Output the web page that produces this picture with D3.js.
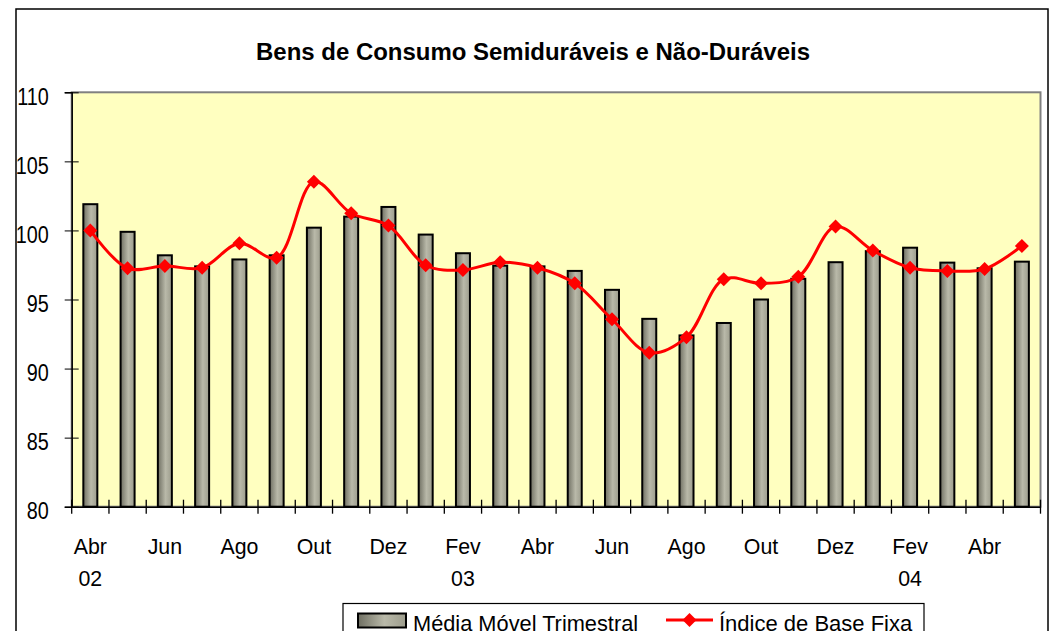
<!DOCTYPE html>
<html>
<head>
<meta charset="utf-8">
<script src="https://cdn.jsdelivr.net/npm/d3@7"></script>
<style>
  body { margin: 0; background: #fff; }
  text { font-family: "Liberation Sans", Arial, sans-serif; }
</style>
</head>
<body>
<script>
var meses = ["Abr 02","Mai 02","Jun 02","Jul 02","Ago 02","Set 02","Out 02","Nov 02","Dez 02",
  "Jan 03","Fev 03","Mar 03","Abr 03","Mai 03","Jun 03","Jul 03","Ago 03","Set 03","Out 03","Nov 03","Dez 03",
  "Jan 04","Fev 04","Mar 04","Abr 04","Mai 04"];
var mediaMovel = [101.9, 99.9, 98.2, 97.4, 97.9, 98.2, 100.2, 101.0, 101.7, 99.7, 98.35, 97.45, 97.4,
  97.07, 95.7, 93.6, 92.4, 93.3, 95.0, 96.5, 97.7, 98.5, 98.75, 97.67, 97.26, 97.74];
var indiceBase = [100.0, 97.26, 97.43, 97.3, 99.07, 98.03, 103.53, 101.24, 100.35, 97.48, 97.14, 97.7, 97.3,
  96.17, 93.57, 91.15, 92.27, 96.47, 96.17, 96.65, 100.28, 98.54, 97.3, 97.07, 97.21, 98.88];
var yTicks = [80, 85, 90, 95, 100, 105, 110];
var mesLabels = {"Abr 02":"Abr","Jun 02":"Jun","Ago 02":"Ago","Out 02":"Out","Dez 02":"Dez","Fev 03":"Fev",
  "Abr 03":"Abr","Jun 03":"Jun","Ago 03":"Ago","Out 03":"Out","Dez 03":"Dez","Fev 04":"Fev","Abr 04":"Abr"};
var anoLabels = {"Abr 02":"02","Fev 03":"03","Fev 04":"04"};
var titulo = "Bens de Consumo Semiduráveis e Não-Duráveis";
var serie1 = "Média Móvel Trimestral", serie2 = "Índice de Base Fixa";

var w = 1058, h = 631;
var pLeft = 71.7, pRight = 1040.5, pTop = 92.3, pBottom = 506.7;

var svg = d3.select("body").append("svg")
  .attr("width", w)
  .attr("height", h);

var defs = svg.append("defs");
var grad = defs.append("linearGradient").attr("id", "barGrad")
  .attr("x1", "0%").attr("x2", "100%").attr("y1", "0%").attr("y2", "0%");
grad.append("stop").attr("offset", "0%").attr("stop-color", "#6f6f62");
grad.append("stop").attr("offset", "55%").attr("stop-color", "#b9b9a9");
grad.append("stop").attr("offset", "100%").attr("stop-color", "#9c9c8c");

// outer chart border
svg.append("rect")
  .attr("x", 16).attr("y", 9)
  .attr("width", 1032).attr("height", 640)
  .attr("fill", "#fff")
  .attr("stroke", "#000")
  .attr("stroke-width", 1.5);

// squeeze text a bit, like the original
function squeeze(sel, k) {
  sel.each(function() {
    var len = this.getComputedTextLength();
    d3.select(this).attr("textLength", len * k).attr("lengthAdjust", "spacingAndGlyphs");
  });
}

svg.append("text")
  .attr("x", 533).attr("y", 59.5)
  .attr("text-anchor", "middle")
  .attr("textLength", 554)
  .attr("lengthAdjust", "spacingAndGlyphs")
  .style("font-size", "23px")
  .style("font-weight", "bold")
  .text(titulo);

var x = d3.scaleBand().domain(meses).range([pLeft, pRight]);
var y = d3.scaleLinear().domain([80, 110]).range([pBottom, pTop]);

// plot area
svg.append("rect")
  .attr("x", pLeft).attr("y", pTop)
  .attr("width", pRight - pLeft).attr("height", pBottom - pTop)
  .attr("fill", "#ffffc0")
  .attr("stroke", "#808080")
  .attr("stroke-width", 2);

// bars
var barW = 14;
svg.append("g").selectAll("rect")
  .data(mediaMovel)
  .enter().append("rect")
  .attr("x", function(d, i) { return x(meses[i]) + x.bandwidth() / 2 - barW / 2; })
  .attr("y", function(d) { return y(d); })
  .attr("width", barW)
  .attr("height", function(d) { return pBottom - y(d); })
  .attr("fill", "url(#barGrad)")
  .attr("stroke", "#000")
  .attr("stroke-width", 2);

// y axis
var yAxis = svg.append("g")
  .attr("transform", "translate(" + pLeft + ",0)")
  .call(d3.axisLeft(y).tickValues(yTicks).tickSize(7).tickPadding(16));
yAxis.select(".domain").attr("stroke", "#000").attr("stroke-width", 1.5);
yAxis.selectAll(".tick line").attr("x1", 7).attr("stroke", "#000");
yAxis.selectAll(".tick text")
  .attr("dy", "0.52em")
  .style("font-size", "23px")
  .attr("fill", "#000")
  .call(squeeze, 0.86);

// x axis
var xAxis = svg.append("g")
  .attr("transform", "translate(0," + pBottom + ")")
  .call(d3.axisBottom(x).tickValues(Object.keys(mesLabels)).tickSize(0).tickPadding(32)
    .tickFormat(function(d) { return mesLabels[d]; }));
xAxis.select(".domain").attr("stroke", "#000").attr("stroke-width", 1.5);
xAxis.selectAll(".tick text")
  .style("font-size", "22px")
  .attr("fill", "#000")
  .call(squeeze, 0.97);

svg.append("g").selectAll("line")
  .data(meses.concat(["fim"]))
  .enter().append("line")
  .attr("x1", function(d) { return d == "fim" ? pRight : x(d); })
  .attr("x2", function(d) { return d == "fim" ? pRight : x(d); })
  .attr("y1", pBottom - 7)
  .attr("y2", pBottom + 7)
  .style("stroke", "#000")
  .style("stroke-width", 1.3);

svg.append("g").selectAll("text")
  .data(Object.keys(anoLabels))
  .enter().append("text")
  .attr("x", function(d) { return x(d) + x.bandwidth() / 2; })
  .attr("y", 586)
  .attr("text-anchor", "middle")
  .style("font-size", "22px")
  .text(function(d) { return anoLabels[d]; })
  .call(squeeze, 0.97);

// line
var line = d3.line()
  .x(function(d, i) { return x(meses[i]) + x.bandwidth() / 2; })
  .y(function(d) { return y(d); })
  .curve(d3.curveCatmullRom.alpha(0.5));

svg.append("path")
  .datum(indiceBase)
  .attr("d", line)
  .attr("fill", "none")
  .attr("stroke", "#ff0000")
  .attr("stroke-width", 3);

var diamond = d3.symbol().type(d3.symbolSquare).size(98);
svg.append("g").selectAll("path")
  .data(indiceBase)
  .enter().append("path")
  .attr("d", diamond)
  .attr("transform", function(d, i) {
    return "translate(" + (x(meses[i]) + x.bandwidth() / 2) + "," + y(d) + ") rotate(45)";
  })
  .attr("fill", "#ff0000");

// legend
var lg = svg.append("g");
lg.append("rect")
  .attr("x", 343).attr("y", 603.5)
  .attr("width", 581).attr("height", 50)
  .attr("fill", "#fff")
  .attr("stroke", "#000")
  .attr("stroke-width", 1.2);
lg.append("rect")
  .attr("x", 358).attr("y", 613.5)
  .attr("width", 48).attr("height", 14)
  .attr("fill", "url(#barGrad)")
  .attr("stroke", "#000")
  .attr("stroke-width", 2);
lg.append("text")
  .attr("x", 413).attr("y", 631)
  .style("font-size", "22px")
  .text(serie1)
  .call(squeeze, 0.99);
lg.append("line")
  .attr("x1", 666).attr("x2", 713)
  .attr("y1", 620).attr("y2", 620)
  .attr("stroke", "#ff0000")
  .attr("stroke-width", 3);
lg.append("path")
  .attr("d", diamond)
  .attr("transform", "translate(689.5,620) rotate(45)")
  .attr("fill", "#ff0000");
lg.append("text")
  .attr("x", 719).attr("y", 631)
  .style("font-size", "22px")
  .text(serie2);
</script>
</body>
</html>
